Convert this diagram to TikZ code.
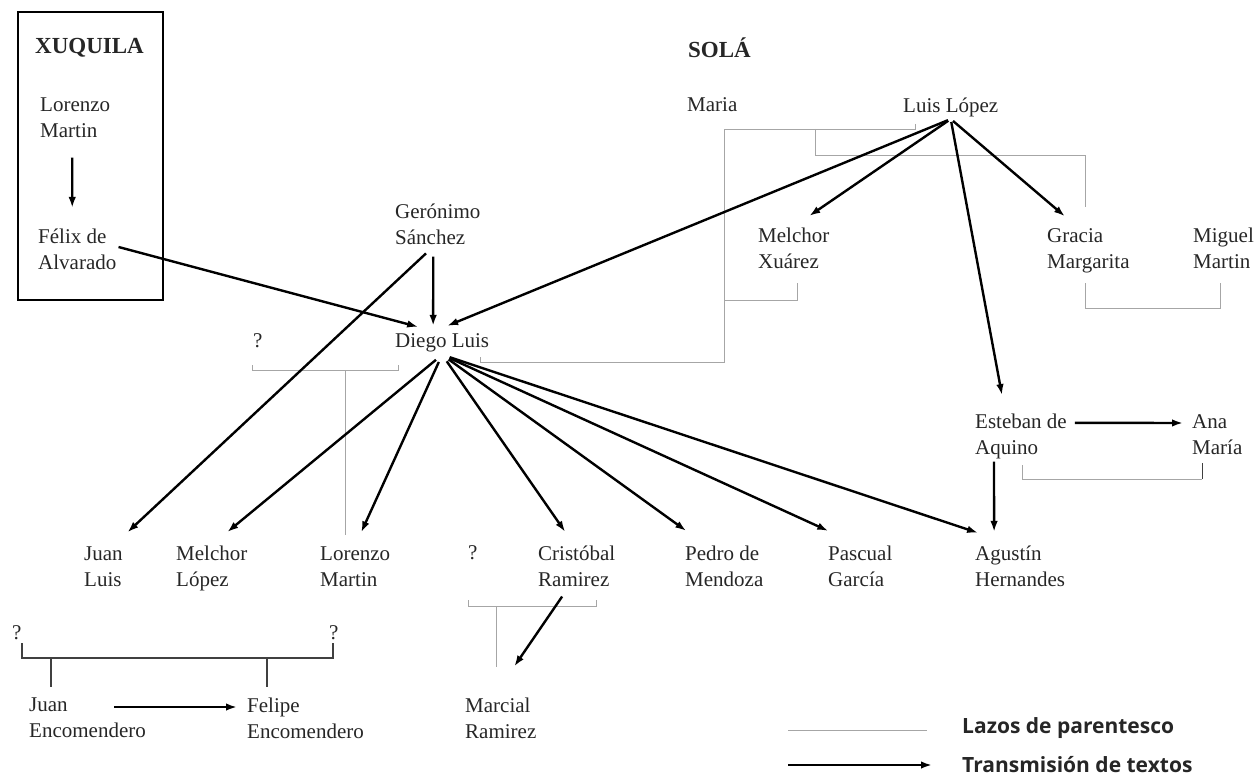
\documentclass[tikz,border=0pt]{standalone}
\usepackage{fontspec}
\setmainfont{Liberation Serif}
\newfontfamily\legfont{Open Sans}
\usepackage{tikz}
\usetikzlibrary{arrows.meta}
\newcommand{\namefont}{\fontsize{21}{26}\selectfont}
\newcommand{\placefont}{\fontsize{23}{26}\selectfont\bfseries}
\newcommand{\legendfont}{\legfont\fontsize{21}{24}\selectfont\bfseries}

\begin{document}
\begin{tikzpicture}[
		x=1pt, y=-1pt,
		every node/.style={anchor=west, align=left, inner sep=2pt, text=black!85, font=\namefont},
		trans/.style={-{Latex[length=11pt, width=7.5pt]}, line width=2.4pt},
		kin/.style={draw=black!35, line width=0.8pt},
		bracket/.style={draw=black!75, line width=1.3pt}
	]
  \useasboundingbox (0, 0) rectangle (1257, 778);
  \draw[line width=1.6pt] (18, 12) rectangle (163, 300);
  \node (xuquila) [font=\placefont] at (33, 48) {XUQUILA};
  \node (sola) [font=\placefont] at (686, 48) {SOLÁ};
  \node (lorenzoA) at (38, 117.5) {Lorenzo\\Martin};
  \node (felix) at (36, 249.5) {Félix de\\Alvarado};
  \node (geronimo) at (393, 224) {Gerónimo\\Sánchez};
  \node (diego) at (393, 343.3) {Diego Luis};
  \node (q_diego) at (251, 341) {?};
  \node (maria) at (685, 105) {Maria};
  \node (lopez) at (901, 107.3) {Luis López};
  \node (xuarez) at (756, 248.5) {Melchor\\Xuárez};
  \node (gracia) at (1045, 250.8) {Gracia\\Margarita};
  \node (miguel) at (1191, 248.5) {Miguel\\Martin};
  \node (esteban) at (973, 436.8) {Esteban de\\Aquino};
  \node (ana) at (1190, 434.5) {Ana\\María};
  \node (juan_luis) at (82, 566.5) {Juan\\Luis};
  \node (melchor) at (174, 568.8) {Melchor\\López};
  \node (lorenzoB) at (318, 566.5) {Lorenzo\\Martin};
  \node (q_cris) at (466, 553) {?};
  \node (cristobal) at (536, 566.5) {Cristóbal\\Ramirez};
  \node (pedro) at (683, 566.5) {Pedro de\\Mendoza};
  \node (pascual) at (826, 566.5) {Pascual\\García};
  \node (agustin) at (973, 566.5) {Agustín\\Hernandes};
  \node (q_left) at (10, 633) {?};
  \node (q_right) at (327, 633) {?};
  \node (juan_enc) at (27, 718) {Juan\\Encomendero};
  \node (felipe) at (245, 718) {Felipe\\Encomendero};
  \node (marcial) at (463, 718) {Marcial\\Ramirez};
  \node (leg_kin) [font=\legendfont] at (960, 728) {Lazos de parentesco};
  \node (leg_trans) [font=\legendfont] at (960, 765) {Transmisión de textos};

  % lazos de parentesco
  \draw[kin] (915, 124) -- (915, 129) -- (724, 129) -- (724, 362) -- (480, 362) -- (480, 357);
  \draw[kin] (724, 300) -- (797, 300) -- (797, 283);
  \draw[kin] (815, 129) -- (815, 155) -- (1085, 155) -- (1085, 207);
  \draw[kin] (1085, 283) -- (1085, 308) -- (1220, 308) -- (1220, 283);
  \draw[kin] (252, 365) -- (252, 370) -- (398, 370) -- (398, 365);
  \draw[kin] (345, 370) -- (345, 535);
  \draw[kin] (1022, 465) -- (1022, 479) -- (1202, 479);
  \draw[bracket, line width=1pt] (1202, 479) -- (1202, 463);
  \draw[kin] (468, 600) -- (468, 606) -- (596, 606) -- (596, 600);
  \draw[kin] (496, 606) -- (496, 667);
  \draw[bracket] (22, 643) -- (22, 658) -- (333, 658) -- (333, 643);
  \draw[bracket] (51, 658) -- (51, 687);
  \draw[bracket] (267, 658) -- (267, 687);

  % transmision de textos
  \draw ([xshift=-3pt]lorenzoA.south) edge[trans, shorten <=18pt, shorten >=19pt] ([xshift=-5pt]felix.north);
  \draw ([yshift=2.5pt]felix.east) edge[trans] ([xshift=-24pt, yshift=5pt]diego.north);
  \draw ([xshift=-4.5pt]geronimo.south) edge[trans, shorten <=10pt] ([xshift=-9pt, yshift=6pt]diego.north);
  \draw ([xshift=-4.5pt]geronimo.south) edge[trans, shorten <=10pt] ([xshift=24pt, yshift=12pt]juan_luis.north);
  \draw (lopez.south) edge[trans, shorten <=3pt] ([xshift=5pt, yshift=6pt]diego.north);
  \draw (lopez.south) edge[trans, shorten <=3pt] ([xshift=15.5pt, yshift=10pt]xuarez.north);
  \draw (lopez.south) edge[trans, shorten <=3pt] ([xshift=-23.5pt, yshift=10pt]gracia.north);
  \draw (lopez.south) edge[trans, shorten <=3pt] ([xshift=-19pt, yshift=17pt]esteban.north);
  \draw ([xshift=6pt, yshift=14pt]esteban.east) edge[trans] ([xshift=-7pt, yshift=11.5pt]ana.west);
  \draw ([xshift=-27pt]esteban.south) edge[trans] ([xshift=-26pt, yshift=12pt]agustin.north);
  \draw (diego.south) edge[trans, shorten <=8pt] ([xshift=15.5pt, yshift=12pt]melchor.north);
  \draw (diego.south) edge[trans, shorten <=8pt] ([xshift=6pt, yshift=12pt]lorenzoB.north);
  \draw (diego.south) edge[trans, shorten <=8pt] ([xshift=-11.5pt, yshift=12pt]cristobal.north);
  \draw (diego.south) edge[trans, shorten <=8pt] ([xshift=-38pt, yshift=13pt]pedro.north);
  \draw (diego.south) edge[trans, shorten <=8pt] ([xshift=-32pt, yshift=13pt]pascual.north);
  \draw (diego.south) edge[trans, shorten <=8pt] ([xshift=-42pt, yshift=11pt]agustin.north);
  \draw ([xshift=-9.5pt]cristobal.south) edge[trans, shorten <=9pt] ([xshift=13.5pt, yshift=29pt]marcial.north);
  \draw ([xshift=-34pt, yshift=11pt]juan_enc.east) edge[trans] ([xshift=-8pt, yshift=11pt]felipe.west);

  % leyenda
  \draw[kin] ([xshift=-172pt, yshift=-2pt]leg_kin.west) -- ([xshift=-33pt, yshift=-2pt]leg_kin.west);
  \draw[trans] ([xshift=-172pt]leg_trans.west) -- ([xshift=-28pt]leg_trans.west);
\end{tikzpicture}
\end{document}
